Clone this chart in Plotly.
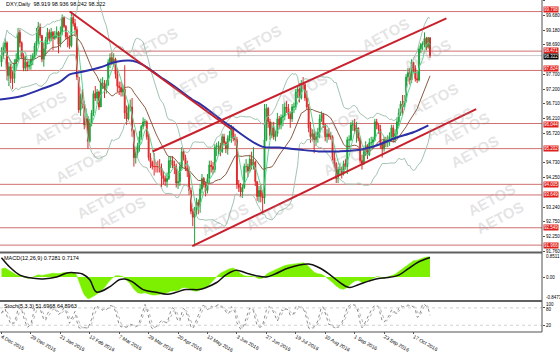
import plotly.graph_objects as go
import pandas as pd
import numpy as np

# ---------------- data ----------------
tick_bars = list(range(0, 225, 16))
tick_labels = ["4 Dec 2015", "29 Dec 2015", "21 Jan 2016", "12 Feb 2016", "7 Mar 2016",
               "29 Mar 2016", "20 Apr 2016", "12 May 2016", "3 Jun 2016", "27 Jun 2016",
               "19 Jul 2016", "10 Aug 2016", "1 Sep 2016", "23 Sep 2016", "17 Oct 2016"]

first_open = 98.10
close = [98.35, 98.60, 98.75, 97.65, 97.95, 97.55, 97.55, 98.05, 98.20, 99.10,
         98.75, 98.30, 97.90, 98.10, 97.95, 98.00, 98.20, 98.30, 98.65, 98.80,
         99.30, 99.00, 98.20, 98.55, 98.85, 99.10, 98.90, 99.10, 98.90, 99.00,
         99.10, 98.70, 99.10, 99.60, 99.30, 98.95, 98.90, 98.65, 99.60, 99.40,
         99.20, 97.60, 96.50, 96.95, 96.70, 96.00, 96.20, 95.45, 96.05, 96.40,
         97.05, 96.90, 97.10, 96.60, 97.40, 97.40, 97.20, 97.35, 98.10, 98.25,
         98.10, 98.20, 97.70, 97.30, 97.25, 97.10, 97.20, 96.40, 96.20, 96.60,
         96.60, 95.80, 94.90, 95.05, 95.30, 95.60, 95.95, 96.10, 96.10, 95.60,
         94.90, 94.75, 94.60, 94.60, 94.60, 94.60, 94.55, 94.30, 94.20, 94.10,
         94.20, 94.80, 94.80, 94.65, 94.60, 94.05, 94.10, 94.60, 95.10, 94.90,
         94.55, 94.45, 93.80, 93.10, 92.90, 93.15, 93.40, 93.30, 93.85, 94.20,
         94.00, 93.80, 94.20, 94.65, 94.60, 94.50, 95.25, 95.30, 95.30, 95.10,
         95.60, 95.40, 95.20, 95.55, 95.65, 95.90, 95.55, 95.50, 94.00, 93.90,
         93.75, 93.90, 94.60, 94.60, 94.45, 94.85, 94.65, 94.75, 94.10, 93.60,
         93.80, 93.60, 93.55, 95.50, 96.55, 96.10, 95.65, 95.90, 95.60, 95.70,
         96.20, 96.00, 96.25, 96.30, 96.60, 96.55, 96.35, 96.20, 96.60, 96.60,
         97.10, 97.20, 96.90, 97.40, 97.35, 96.90, 96.60, 95.90, 95.60, 95.70,
         95.50, 95.60, 95.75, 96.20, 96.35, 96.00, 95.60, 95.70, 95.60, 95.60,
         94.90, 94.70, 94.20, 94.50, 94.50, 94.40, 94.70, 94.60, 95.50, 95.50,
         96.00, 96.00, 95.80, 95.90, 95.55, 94.80, 94.70, 95.10, 95.30, 95.00,
         95.40, 95.40, 95.50, 96.10, 96.00, 95.85, 95.40, 95.20, 95.50, 95.40,
         95.45, 95.60, 95.90, 95.50, 95.70, 96.10, 96.40, 96.70, 96.60, 96.80,
         97.60, 97.75, 97.50, 98.10, 97.90, 97.55, 97.50, 98.55, 98.70, 98.70,
         98.90, 98.60, 98.919, 98.322]
high = [98.60, 98.75, 98.90, 98.80, 98.10, 98.05, 97.80, 98.20, 98.40, 99.25,
        99.20, 98.80, 98.40, 98.30, 98.15, 98.15, 98.35, 98.40, 98.75, 99.25,
        99.45, 99.40, 99.00, 98.75, 98.95, 99.25, 99.20, 99.25, 99.15, 99.15,
        99.30, 99.15, 99.30, 99.70, 99.60, 99.35, 99.10, 99.00, 99.80, 99.70,
        99.55, 99.30, 97.60, 97.05, 97.20, 96.80, 96.55, 96.30, 96.20, 96.50,
        97.15, 97.30, 97.20, 97.15, 97.55, 97.60, 97.50, 97.50, 98.20, 98.40,
        98.45, 98.40, 98.25, 97.90, 97.45, 97.45, 97.35, 98.00, 96.65, 96.70,
        96.85, 96.90, 95.85, 95.25, 95.40, 95.80, 96.00, 96.25, 96.20, 96.15,
        95.70, 95.05, 94.80, 95.05, 94.75, 94.80, 94.85, 94.70, 94.45, 94.30,
        94.40, 94.95, 94.95, 94.95, 94.80, 94.70, 94.45, 94.75, 95.25, 95.20,
        95.00, 94.80, 94.60, 93.90, 93.20, 93.25, 93.55, 93.50, 94.00, 94.35,
        94.25, 94.10, 94.35, 94.80, 94.80, 94.75, 95.35, 95.40, 95.45, 95.40,
        95.70, 95.70, 95.45, 95.65, 95.80, 96.00, 95.95, 95.70, 95.60, 94.15,
        94.05, 94.00, 94.70, 94.85, 94.70, 95.00, 95.10, 95.25, 94.80, 94.10,
        93.95, 94.00, 93.80, 96.70, 96.70, 96.60, 96.20, 96.10, 96.10, 95.80,
        96.40, 96.30, 96.35, 96.70, 96.75, 96.80, 96.70, 96.45, 96.70, 96.75,
        97.20, 97.30, 97.40, 97.50, 97.60, 97.45, 97.15, 96.70, 96.10, 95.85,
        95.85, 95.75, 95.90, 96.35, 96.45, 96.40, 96.05, 95.85, 95.90, 95.75,
        95.65, 95.10, 94.75, 94.60, 94.70, 94.60, 94.80, 94.85, 95.60, 95.65,
        96.10, 96.15, 96.20, 96.10, 95.90, 95.60, 95.00, 95.20, 95.45, 95.35,
        95.55, 95.60, 95.60, 96.20, 96.20, 96.05, 96.00, 95.45, 95.60, 95.60,
        95.65, 95.75, 96.00, 96.00, 95.85, 96.25, 96.55, 96.80, 97.00, 97.00,
        97.70, 97.90, 97.90, 98.20, 98.10, 98.00, 97.80, 98.65, 98.75, 98.80,
        99.10, 98.95, 98.95, 98.936]
low = [97.95, 98.20, 98.40, 97.50, 97.30, 97.40, 97.20, 97.40, 97.85, 98.15,
       98.60, 98.20, 97.80, 97.80, 97.80, 97.85, 97.85, 98.00, 98.20, 98.35,
       98.70, 98.90, 98.10, 97.95, 98.30, 98.70, 98.80, 98.80, 98.50, 98.85,
       98.90, 98.40, 98.60, 99.00, 99.25, 98.85, 98.60, 98.55, 98.60, 99.30,
       99.00, 97.50, 96.40, 96.30, 96.55, 95.85, 95.90, 95.20, 95.40, 95.95,
       96.30, 96.80, 96.70, 96.50, 96.60, 97.20, 96.90, 97.05, 97.30, 97.90,
       98.00, 97.95, 97.55, 97.10, 97.00, 96.95, 96.95, 96.20, 96.00, 96.15,
       96.45, 95.60, 94.60, 94.70, 94.90, 95.10, 95.50, 95.85, 95.95, 95.50,
       94.80, 94.55, 94.50, 94.30, 94.40, 94.40, 94.40, 93.90, 94.00, 93.95,
       93.90, 94.15, 94.55, 94.55, 94.35, 93.90, 93.85, 93.95, 94.50, 94.80,
       94.45, 94.25, 93.65, 93.00, 92.60, 91.92, 92.95, 93.00, 93.05, 93.70,
       93.90, 93.60, 93.70, 94.05, 94.40, 94.35, 94.40, 94.95, 95.00, 94.95,
       95.05, 95.30, 95.05, 95.00, 95.45, 95.40, 95.45, 95.30, 93.85, 93.75,
       93.60, 93.55, 93.85, 94.40, 94.25, 94.40, 94.50, 94.50, 93.95, 93.45,
       93.40, 93.40, 93.00, 93.35, 95.45, 95.90, 95.50, 95.55, 95.50, 95.45,
       95.60, 95.85, 95.85, 95.95, 96.15, 96.40, 96.20, 95.90, 96.10, 96.40,
       96.50, 96.90, 96.75, 96.85, 97.20, 96.80, 96.50, 95.75, 95.40, 95.45,
       95.05, 95.30, 95.40, 95.55, 96.10, 95.90, 95.45, 95.40, 95.50, 95.50,
       94.80, 94.55, 94.05, 94.05, 94.30, 94.20, 94.30, 94.50, 94.35, 95.20,
       95.45, 95.80, 95.70, 95.40, 95.45, 94.70, 94.50, 94.65, 94.95, 94.85,
       94.95, 95.30, 95.20, 95.45, 95.85, 95.70, 95.20, 94.90, 95.10, 95.25,
       95.25, 95.30, 95.45, 95.40, 95.40, 95.60, 95.95, 96.30, 96.30, 96.50,
       96.75, 97.45, 97.35, 97.40, 97.75, 97.45, 97.40, 97.45, 98.40, 98.50,
       98.60, 98.50, 98.55, 98.242]

# long moving average (blue): bar index, price
blue_i = [-0.8, 10, 20.9, 31.7, 37.1, 42.5, 53.4, 60.4, 65.8, 71.2, 76.7, 85.9, 95.1,
          103.7, 107.5, 123.8, 141.7, 150.9, 161.7, 172.5, 183.4, 195.8, 205, 214.2, 224, 232.1]
blue_p = [96.85, 96.95, 97.18, 97.44, 97.69, 97.76, 97.92, 98.08, 98.15, 98.15, 98.02, 97.63, 97.24,
          96.85, 96.72, 95.98, 95.27, 95.24, 95.17, 95.11, 95.11, 95.17, 95.33, 95.56, 95.75, 95.98]

# horizontal support / resistance levels
levels = [99.798, 98.471, 97.824, 96.044, 95.202, 94.005, 93.649, 92.549, 91.966]
level_labels = ["99.798", "98.471", "97.824", "96.044", "95.202", "94.005", "93.649", "92.549", "91.966"]
last_price = 98.322

# trend lines: (bar index, price) endpoints
down_x, down_y = [37.1, 125.0], [99.80, 95.85]
chan_up_x, chan_up_y = [82.1, 241.9], [95.105, 99.571]
chan_lo_x, chan_lo_y = [103.7, 258.1], [91.934, 96.53]

price_ticks = [100.170, 99.680, 99.180, 98.690, 97.700, 97.200, 96.710, 96.210,
               95.720, 94.730, 94.250, 93.240, 92.750, 92.250, 91.760]

macd_labels = ["0.8511", "0.00", "-0.8473"]
stoch_labels = ["100", "80", "20"]

# MACD histogram and signal line
hist_i = [0, 2, 4, 6, 8, 10, 12, 14, 16, 18, 20, 22, 24, 26, 28, 30, 32, 34, 36, 38, 40, 41, 42, 43, 44, 45, 46, 47,
          48, 49, 50, 52, 54, 56, 58, 60, 62, 64, 66, 68, 70, 72, 74, 76, 78, 80, 82, 84, 86, 88, 90, 92, 94,
          96, 98, 100, 102, 104, 106, 108, 110, 112, 114, 116, 118, 120, 122, 124, 126, 128, 130, 132, 134,
          136, 138, 140, 142, 144, 146, 148, 150, 152, 154, 156, 158, 160, 162, 164, 166, 168, 170, 172, 174,
          176, 178, 180, 182, 184, 186, 188, 190, 192, 194, 196, 198, 200, 202, 204, 206, 208, 210, 212, 214,
          216, 218, 220, 222, 224, 226, 228, 230, 232, 233]
hist_v = [0.30, 0.33, 0.25, 0.15, 0.08, 0.05, 0.0, -0.04, -0.03, 0.02, 0.08, 0.06, 0.08, 0.12, 0.14, 0.13,
          0.13, 0.17, 0.15, 0.17, 0.15, 0.05, -0.15, -0.35, -0.5, -0.65, -0.72, -0.8, -0.78, -0.75, -0.7,
          -0.62, -0.5, -0.38, -0.2, -0.05, 0.05, 0.05, 0.02, -0.1, -0.25, -0.45, -0.58, -0.6, -0.58, -0.62,
          -0.66, -0.66, -0.62, -0.6, -0.58, -0.52, -0.5, -0.5, -0.4, -0.38, -0.42, -0.5, -0.52, -0.48, -0.42,
          -0.35, -0.2, -0.05, 0.08, 0.18, 0.25, 0.3, 0.33, 0.25, 0.12, 0.05, 0.03, 0.04, 0.0, -0.06, -0.04,
          0.1, 0.18, 0.24, 0.3, 0.38, 0.42, 0.45, 0.47, 0.5, 0.52, 0.52, 0.45, 0.3, 0.18, 0.12, 0.1, 0.02,
          -0.08, -0.2, -0.33, -0.42, -0.45, -0.38, -0.25, -0.15, -0.12, -0.2, -0.18, -0.1, -0.05, 0.02, 0.0,
          -0.05, 0.0, 0.05, 0.1, 0.2, 0.3, 0.42, 0.52, 0.6, 0.62, 0.68, 0.72, 0.74, 0.7281]
sig_i = [0, 4.6, 10, 15.4, 22.5, 30, 35.5, 41, 44, 48, 51.7, 59, 64, 67, 71, 77, 84, 90, 95, 100, 107.5,
         111, 117, 122, 127.6, 133, 138.4, 144, 149, 156, 167, 172.5, 178, 183, 189, 194, 199.6, 205, 210,
         216, 221, 226.7, 233]
sig_v = [0.71, 0.36, 0.07, -0.03, -0.07, 0.0, 0.15, 0.15, 0.11, -0.10, -0.55, -0.35, -0.10, -0.07, -0.17,
         -0.46, -0.56, -0.63, -0.56, -0.46, -0.46, -0.39, -0.2, 0.08, 0.25, 0.15, 0.05, 0.0, 0.12, 0.33,
         0.48, 0.35, 0.12, -0.15, -0.38, -0.28, -0.15, -0.05, -0.02, 0.07, 0.3, 0.55, 0.7174]

# ---------------- derived series ----------------
n = len(close)
x = list(range(n))
opens = [first_open] + close[:-1]
hi = np.maximum(np.array(high), np.maximum(opens, close))
lo = np.minimum(np.array(low), np.minimum(opens, close))
s = pd.Series(close)
mid = s.rolling(20, min_periods=1).mean()
sd = s.rolling(20, min_periods=1).std(ddof=0)
bb_up, bb_lo = mid + 2 * sd, mid - 2 * sd
fast = s.rolling(5, min_periods=1).mean()
hh = pd.Series(hi).rolling(5, min_periods=1).max()
ll = pd.Series(lo).rolling(5, min_periods=1).min()
num = (s - ll).rolling(3, min_periods=1).sum()
den = (hh - ll).rolling(3, min_periods=1).sum()
stk = 100 * num / den
std_ = stk.rolling(3, min_periods=1).mean()

# ---------------- geometry ----------------
PW, PH = 544, 344          # plot area in px (margins r=16, b=9)
PX = 1.846                 # px per bar
X0 = 1.5
xr = [(0 - X0) / PX, (PW - X0) / PX]
def py(p):                 # pixel y -> paper
    return (PH - p) / PH

fig = go.Figure()
fig.add_trace(go.Candlestick(x=x, open=opens, high=hi, low=lo, close=close,
                             increasing=dict(line=dict(color="#17a53a", width=1), fillcolor="#17a53a"),
                             decreasing=dict(line=dict(color="#e0282a", width=1), fillcolor="#e0282a"),
                             whiskerwidth=0, xaxis="x", yaxis="y", showlegend=False))
for yy in (bb_up, bb_lo):
    fig.add_trace(go.Scatter(x=x, y=yy, mode="lines", line=dict(color="#a3c4b0", width=1),
                             xaxis="x", yaxis="y", showlegend=False))
fig.add_trace(go.Scatter(x=x, y=mid, mode="lines", line=dict(color="#8a5a40", width=1),
                         xaxis="x", yaxis="y", showlegend=False))
fig.add_trace(go.Scatter(x=x, y=fast, mode="lines", line=dict(color="#55d88f", width=1),
                         xaxis="x", yaxis="y", showlegend=False))
fig.add_trace(go.Scatter(x=blue_i, y=blue_p, mode="lines", line=dict(color="#2a2fa5", width=2, shape="spline"),
                         xaxis="x", yaxis="y", showlegend=False))
for tx, ty in ((down_x, down_y), (chan_up_x, chan_up_y), (chan_lo_x, chan_lo_y)):
    fig.add_trace(go.Scatter(x=tx, y=ty, mode="lines", line=dict(color="#c8202c", width=2),
                             xaxis="x", yaxis="y", showlegend=False))

# MACD
fig.add_trace(go.Scatter(x=hist_i, y=hist_v, mode="lines", fill="tozeroy", fillcolor="#7cf000",
                         line=dict(color="#7cf000", width=0.5), xaxis="x2", yaxis="y2", showlegend=False))
fig.add_trace(go.Scatter(x=sig_i, y=sig_v, mode="lines", line=dict(color="#111111", width=1.5, shape="spline"),
                         xaxis="x2", yaxis="y2", showlegend=False))
# Stochastic
fig.add_trace(go.Scatter(x=x, y=stk, mode="lines", line=dict(color="#8a8a8a", width=1, dash="dot"),
                         xaxis="x3", yaxis="y3", showlegend=False))
fig.add_trace(go.Scatter(x=x, y=std_, mode="lines", line=dict(color="#b5b5b5", width=1, dash="dot"),
                         xaxis="x3", yaxis="y3", showlegend=False))

shapes = []
for lv in levels:
    shapes.append(dict(type="line", xref="paper", x0=0, x1=1, yref="y", y0=lv, y1=lv,
                       line=dict(color="#cf7070", width=1), layer="below"))
shapes.append(dict(type="line", xref="paper", x0=0, x1=1, yref="y", y0=last_price, y1=last_price,
                   line=dict(color="#c8c8c8", width=1), layer="below"))
for lv in (80, 20):
    shapes.append(dict(type="line", xref="paper", x0=0, x1=1, yref="y3", y0=lv, y1=lv,
                       line=dict(color="#d0d0d0", width=1, dash="dot")))
for yp in (261.5, 312.0):
    shapes.append(dict(type="line", xref="paper", x0=0, x1=1, yref="paper", y0=py(yp), y1=py(yp),
                       line=dict(color="#606060", width=2)))
shapes.append(dict(type="line", xref="paper", x0=1, x1=1, yref="paper", y0=0, y1=1,
                   line=dict(color="#505050", width=1)))
shapes.append(dict(type="line", xref="paper", x0=0, x1=1, yref="paper", y0=0, y1=0,
                   line=dict(color="#505050", width=1)))

ann = []
small = dict(family="Liberation Sans, Arial", size=5.5, color="#000000")
lab_font = dict(family="Liberation Sans", size=4.5, color="white")
axfont = dict(family="Liberation Sans, Arial", size=4.5, color="#000000")
lab_shift = {0: 2, 1: 0.5, 2: 2, 3: -0.5}
for k, (lv, lt) in enumerate(zip(levels, level_labels)):
    ann.append(dict(xref="paper", x=1.0, xanchor="left", yref="y", y=lv, text=lt, showarrow=False,
                    bgcolor="#e0201c", font=lab_font, borderpad=0, xshift=1, yshift=lab_shift.get(k, 0)))
ann.append(dict(xref="paper", x=1.0, xanchor="left", yref="y", y=last_price, text="98.322", showarrow=False,
                bgcolor="#000000", font=lab_font, borderpad=0, xshift=1, yshift=-1))
for t, ypx in zip(macd_labels, (266, 287.5, 308.5)):
    ann.append(dict(xref="paper", x=1.0, xanchor="left", yref="paper", y=py(ypx), yanchor="middle",
                    text=t, showarrow=False, font=axfont, xshift=2))
for t, ypx in zip(stoch_labels, (315.3, 320.6, 337)):
    ann.append(dict(xref="paper", x=1.0, xanchor="left", yref="paper", y=py(ypx), yanchor="middle",
                    text=t, showarrow=False, font=axfont, xshift=2))
ann.append(dict(xref="paper", x=0.008, xanchor="left", yref="paper", y=py(4.5), yanchor="middle",
                text="DXY,Daily  98.919 98.936 98.242 98.322", showarrow=False, font=small))
ann.append(dict(xref="paper", x=0.004, xanchor="left", yref="paper", y=py(267), yanchor="middle",
                text="MACD(12,26,9) 0.7281 0.7174", showarrow=False, font=small))
ann.append(dict(xref="paper", x=0.004, xanchor="left", yref="paper", y=py(317), yanchor="middle",
                text="Stoch(5,3,3) 51.6968 64.8963", showarrow=False, font=small))

wm = [(258, 20), (125, 22), (165, 62), (180, 97), (13, 88), (416, 13), (458, 35), (465, 80), (497, 110),
      (28, 133), (50, 173), (72, 210), (93, 243), (480, 128), (506, 157), (523, 207), (531, 248),
      (225, 227), (270, 245), (305, 70), (336, 107), (348, 165)]
for wx, wy in wm:
    ann.append(dict(xref="paper", x=wx / PW, yref="paper", y=py(wy), text="<b>AETOS</b>", showarrow=False,
                    textangle=-28, font=dict(family="Liberation Sans", size=15, color="rgba(150,150,150,0.27)")))

fig.update_layout(
    width=560, height=353, margin=dict(l=0, r=16, t=0, b=9),
    paper_bgcolor="white", plot_bgcolor="white", shapes=shapes, annotations=ann,
    xaxis=dict(domain=[0, 1], range=xr, showticklabels=False, showgrid=False, zeroline=False,
               rangeslider=dict(visible=False), anchor="y"),
    xaxis2=dict(domain=[0, 1], range=xr, matches="x", showticklabels=False, showgrid=False, zeroline=False, anchor="y2"),
    xaxis3=dict(domain=[0, 1], range=xr, matches="x", showgrid=False, zeroline=False, anchor="y3",
                tickvals=tick_bars, ticktext=tick_labels, tickfont=dict(family="Liberation Sans, Arial", size=5, color="#000"),
                ticks="outside", ticklen=2, tickcolor="#505050", ticklabelposition="outside right"),
    yaxis=dict(domain=[py(261), 1], range=[100.186 - 261 / 30.9, 100.186], side="right", showgrid=False,
               zeroline=False, tickvals=price_ticks, ticktext=[f"{t:.3f}" for t in price_ticks],
               tickfont=axfont, ticks="outside", ticklen=2, tickcolor="#505050", anchor="x"),
    yaxis2=dict(domain=[py(311), py(263)], range=[-0.8473, 0.8511], side="right", showgrid=False,
                zeroline=False, tickvals=[0.0], ticktext=[""], ticks="outside", ticklen=2,
                tickcolor="#505050", anchor="x2"),
    yaxis3=dict(domain=[py(343), py(313)], range=[0, 100], side="right", showgrid=False, zeroline=False,
                tickvals=[80, 20], ticktext=["", ""], ticks="outside", ticklen=2,
                tickcolor="#505050", anchor="x3"),
)
fig.write_html("out.html")
